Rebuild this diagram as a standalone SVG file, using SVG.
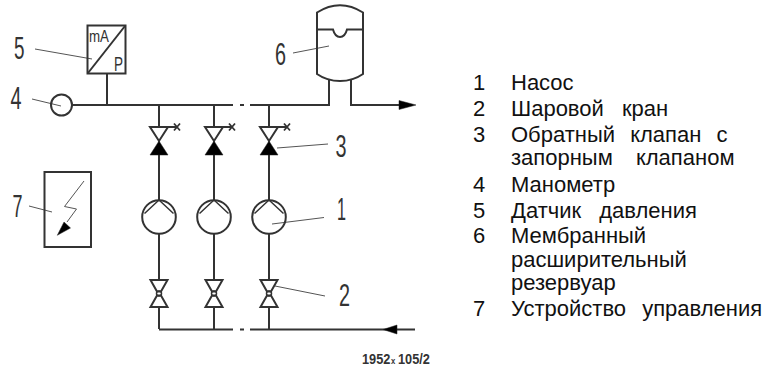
<svg xmlns="http://www.w3.org/2000/svg" width="775" height="369" viewBox="0 0 775 369">
<style>
.p{fill:none;stroke:#333;stroke-width:2}
.l{fill:none;stroke:#555;stroke-width:1}
.b{fill:#000;stroke:#222;stroke-width:.5}
.n{font-family:"Liberation Sans",Arial,sans-serif;font-size:32px;fill:#333}
.t{font-family:"Liberation Sans",Arial,sans-serif;font-size:22px;fill:#111}
.s{font-family:"Liberation Sans",Arial,sans-serif;fill:#333}
</style>
<defs>
<g id="checkvalve">
<path class="p" d="M0 -22V0M0 28V73M-9 0H9L0 14ZM5 0H17"/>
<path class="b" d="M0 14L9 28H-9Z"/>
<path d="M15 -3.500L21 3.500M21 -3.500L15 3.500" fill="none" stroke="#333" stroke-width="1.800"/>
</g>
<g id="pump">
<circle class="p" cx="0" cy="0" r="16.800"/>
<path class="p" style="stroke-width:1.500" d="M0 -17L-14.500 -3.500M0 -17L14.500 -3.500"/>
<path class="p" d="M0 16.800V63"/>
</g>
<g id="ballvalve">
<path class="p" d="M-8.500 0H8.500L2 11.500H-2ZM-2 15.500H2L8.500 27H-8.500Z"/>
<circle class="p" style="stroke-width:1.500" cx="0" cy="13.500" r="2.500"/>
<path class="p" d="M0 27V49"/>
</g>
</defs>
<g id="connectors">
<path class="p" d="M72 105H233M240 105H244M250 105H329V80M351 80V105H400M107 74V105"/>
<path class="p" d="M159 329.500H233M240 329.500H244M250 329.500H415"/>
<path class="b" d="M416 105L399 100.500V109.500Z"/>
<path class="b" d="M383 329.500L397 325V334Z"/>
<path class="l" d="M35 49L92 59M32 99L61 106M29 206L52 212M293 53L329 46M277 148L328 144M272 224L324 217.500M275 286L325 296"/>
</g>
<g id="node-5">
<rect class="p" x="87.500" y="25.500" width="38" height="48"/>
<path class="p" d="M88 73L125 26"/>
<text class="s" x="89" y="41.500" font-size="17" textLength="20" lengthAdjust="spacingAndGlyphs">mA</text>
<text class="s" x="114" y="71" font-size="21" textLength="9" lengthAdjust="spacingAndGlyphs">P</text>
<text class="n" x="14" y="59" textLength="10.500" lengthAdjust="spacingAndGlyphs">5</text>
</g>
<g id="node-4">
<circle class="p" cx="61.500" cy="105" r="10.500"/>
<text class="n" x="10.500" y="109" textLength="11" lengthAdjust="spacingAndGlyphs">4</text>
</g>
<g id="node-6">
<path class="p" d="M317 12.500Q340 -2 363 12.500V74Q353 81 340 81Q327 81 317 74Z"/>
<path class="p" d="M317 29.500H333Q335 37 340 37Q345 37 347 29.500H363"/>
<text class="n" x="275" y="65" textLength="11" lengthAdjust="spacingAndGlyphs">6</text>
</g>
<g id="node-7">
<rect class="p" x="44.500" y="172" width="46.500" height="75"/>
<path class="l" d="M84 181L64.500 206.500L76.500 209L67 222"/>
<path class="b" d="M57.300 235.300L64 222L70.500 228Z"/>
<text class="n" x="12.500" y="217" textLength="10" lengthAdjust="spacingAndGlyphs">7</text>
</g>
<g id="branches">
<use href="#checkvalve" x="159" y="127"/><use href="#checkvalve" x="214" y="127"/><use href="#checkvalve" x="269" y="127"/>
<use href="#pump" x="159" y="217"/><use href="#pump" x="214" y="217"/><use href="#pump" x="269" y="217"/>
<use href="#ballvalve" x="159" y="280"/><use href="#ballvalve" x="214" y="280"/><use href="#ballvalve" x="269" y="280"/>
<text class="n" x="335.500" y="157" textLength="11" lengthAdjust="spacingAndGlyphs">3</text>
<text class="n" x="337" y="220" textLength="9" lengthAdjust="spacingAndGlyphs">1</text>
<text class="n" x="339" y="306" textLength="11" lengthAdjust="spacingAndGlyphs">2</text>
<text class="s" transform="translate(362 364) scale(.85 1)" font-size="15" font-weight="bold">1952<tspan x="34" font-size="9">x</tspan><tspan x="42.400">105/2</tspan></text>
</g>
<g id="legend">
<text class="t" x="473" y="90">1</text><text class="t" x="511" y="90">Насос</text>
<text class="t" x="473" y="116">2</text><text class="t" x="511" y="116" word-spacing="12">Шаровой кран</text>
<text class="t" x="473" y="142">3</text><text class="t" x="511" y="142" word-spacing="9">Обратный клапан с</text>
<text class="t" x="511" y="165" word-spacing="17">запорным клапаном</text>
<text class="t" x="473" y="192">4</text><text class="t" x="511" y="192">Манометр</text>
<text class="t" x="473" y="218">5</text><text class="t" x="511" y="218" word-spacing="12">Датчик давления</text>
<text class="t" x="473" y="243">6</text><text class="t" x="511" y="243">Мембранный</text>
<text class="t" x="511" y="267">расширительный</text>
<text class="t" x="511" y="290">резервуар</text>
<text class="t" x="473" y="316">7</text><text class="t" x="511" y="316" word-spacing="10">Устройство управления</text>
</g>
</svg>
